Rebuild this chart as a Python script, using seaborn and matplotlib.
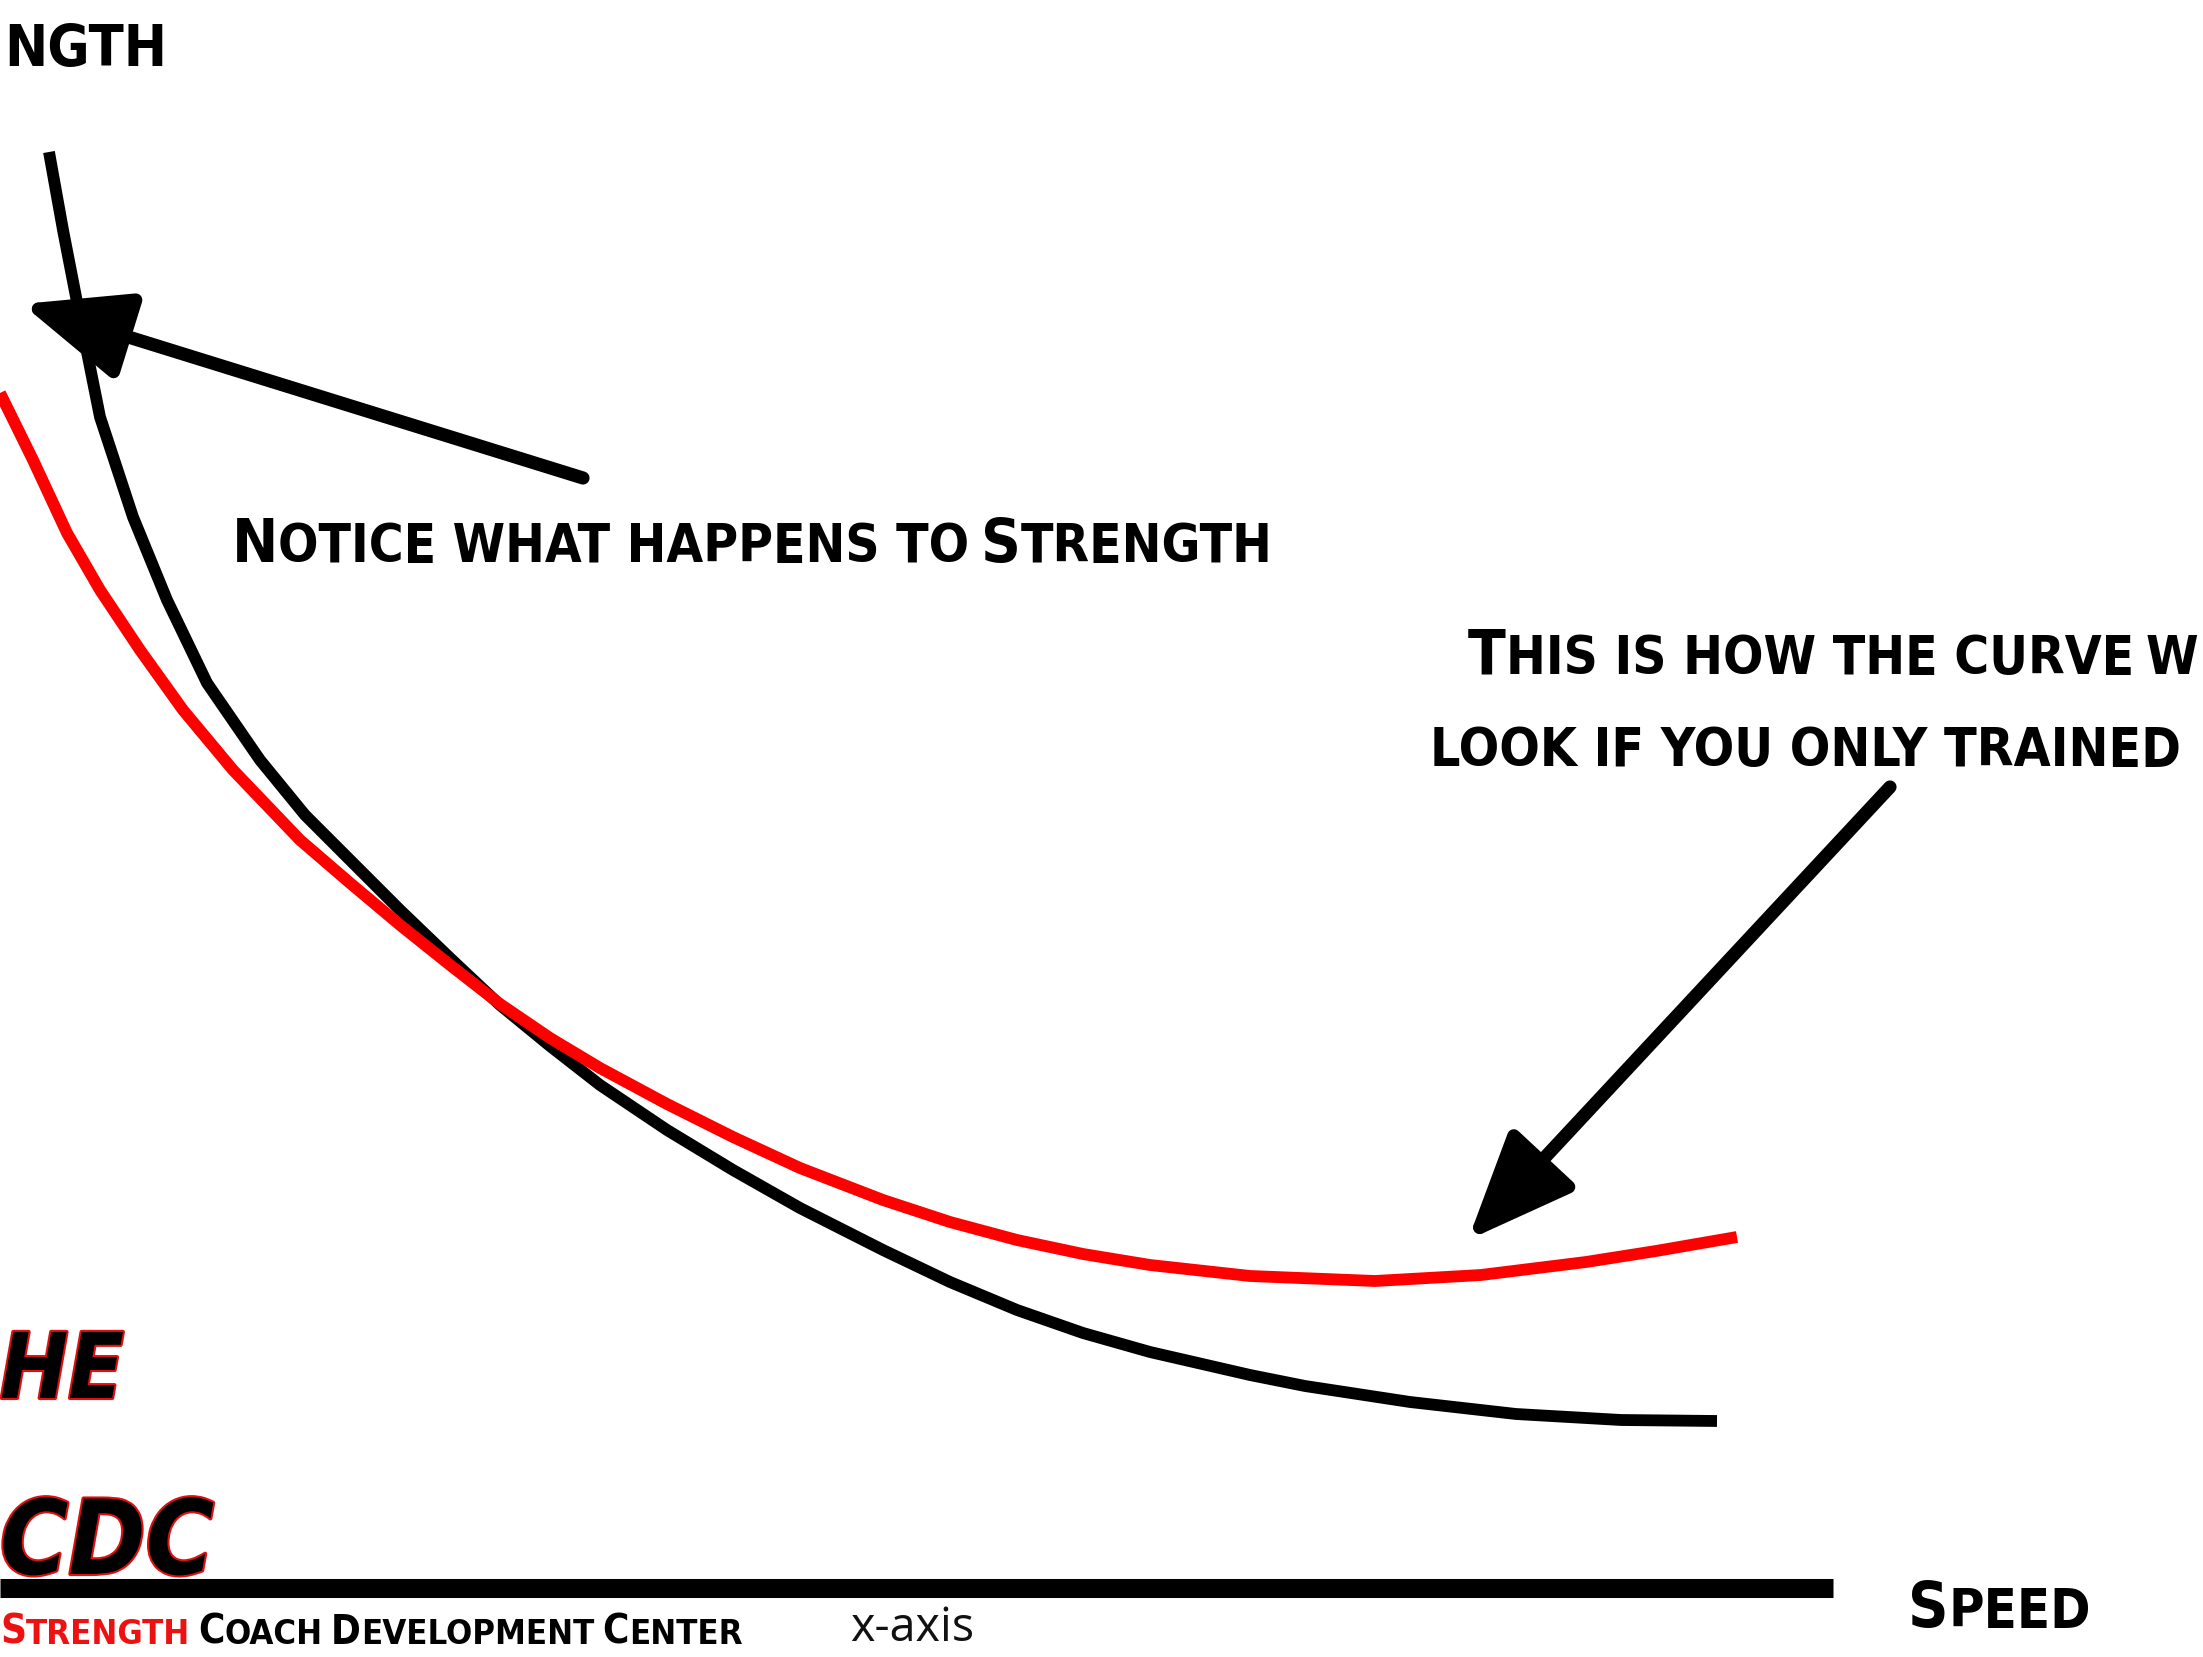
import numpy as np
import pandas as pd
import matplotlib
matplotlib.use("Agg")
import matplotlib.pyplot as plt
from matplotlib import patheffects as pe
import seaborn as sns

# ---------------- data ----------------
AXIS_Y = 1588  # pixel row of the x-axis line; strength = height above it
combined_speed = [49, 63, 77, 90, 100, 133, 167, 207, 260, 305, 350, 400, 450, 500,
                  550, 600, 667, 733, 800, 883, 950, 1017, 1083, 1150, 1250, 1305,
                  1410, 1516, 1621, 1717]
combined_height = [152, 230, 302, 367, 417, 517, 600, 683, 760, 815, 860, 910, 958,
                   1005, 1046, 1085, 1130, 1170, 1208, 1250, 1282, 1310, 1333, 1352,
                   1375, 1386, 1402, 1414, 1420, 1421]
combined_strength = [AXIS_Y - v for v in combined_height]

speed_only_speed = [0, 33, 67, 100, 140, 183, 233, 300, 350, 400, 450, 500, 550, 600,
                    667, 733, 800, 883, 950, 1017, 1083, 1150, 1250, 1375, 1481, 1586,
                    1656, 1737]
speed_only_height = [393, 460, 533, 590, 650, 710, 770, 840, 883, 925, 965, 1004,
                     1038, 1068, 1104, 1137, 1168, 1200, 1222, 1240, 1254, 1265, 1276,
                     1281, 1275, 1262, 1251, 1237]
speed_only_strength = [AXIS_Y - v for v in speed_only_height]

y_label_text = "NGTH"
x_axis_caption = "x-axis"
note_speed_2 = "LOOK IF YOU ONLY TRAINED"
logo_1 = "HE"
logo_2 = "CDC"

# ---------------- figure ----------------
sns.set_theme(style="white")
COND = ["DejaVu Sans"]
plt.rcParams["font.family"] = COND

W, H = 2203, 1657
AXIS_X1 = 1833
fig = plt.figure(figsize=(W / 100, H / 100), dpi=100)
fig.patch.set_facecolor("white")

ax = fig.add_axes([0, (H - AXIS_Y) / H, AXIS_X1 / W, AXIS_Y / H])
ax.set_xlim(0, AXIS_X1)
ax.set_ylim(0, AXIS_Y)
ax.set_facecolor("none")

df = pd.concat([
    pd.DataFrame({"speed": combined_speed, "strength": combined_strength,
                  "curve": "Combined"}),
    pd.DataFrame({"speed": speed_only_speed, "strength": speed_only_strength,
                  "curve": "Speed only"}),
])
palette = {"Combined": "black", "Speed only": "#ff0000"}
for name in ["Combined", "Speed only"]:
    sns.lineplot(data=df[df.curve == name], x="speed", y="strength", color=palette[name],
                 sort=False, estimator=None, lw=8.5, legend=False, ax=ax,
                 solid_capstyle="butt", solid_joinstyle="round")

for s in ["top", "right", "left"]:
    ax.spines[s].set_visible(False)
ax.spines["bottom"].set_linewidth(13.7)
ax.spines["bottom"].set_color("black")
ax.spines["bottom"].set_capstyle("butt")
ax.set_xticks([])
ax.set_yticks([])
ax.set_xlabel("")
ax.set_ylabel("")

# overlay axes in pixel coordinates for annotations
ov = fig.add_axes([0, 0, 1, 1])
ov.set_xlim(0, W)
ov.set_ylim(H, 0)
ov.axis("off")
ov.set_facecolor("none")

renderer = fig.canvas.get_renderer()


def sc_line(x0, base, segs, target_w, big_pt=60, ratio=0.86, family=COND,
            weight="bold", style="normal", stretch="condensed", effects=None):
    """Draw a small-caps style line made of segments, fitted to target_w px."""
    widths = []
    for txt, kind, col in segs:
        if txt is None:
            widths.append(0.20 * big_pt * 100 / 72)
            continue
        size = big_pt if kind == "B" else big_pt * ratio
        t = ov.text(0, 0, txt, fontsize=size, family=family, weight=weight, style=style,
                    fontstretch=stretch)
        widths.append(t.get_window_extent(renderer).width)
        t.remove()
    k = target_w / sum(widths)
    x = x0
    for (txt, kind, col), w in zip(segs, widths):
        if txt is not None:
            size = (big_pt if kind == "B" else big_pt * ratio) * k
            ov.text(x, base, txt, fontsize=size, family=family, weight=weight,
                    style=style, fontstretch=stretch, color=col, ha="left",
                    va="baseline", path_effects=effects)
        x += w * k


K = "black"
R = "#ee1111"
# y-axis label (cropped)
sc_line(4, 66, [(y_label_text, "s", K)], 163)
# note on strength
sc_line(232, 562, [("N", "B", K), ("OTICE WHAT HAPPENS TO", "s", K), (None, "", K),
                   ("S", "B", K), ("TRENGTH", "s", K)], 1040)
# note on speed curve
sc_line(1468, 674, [("T", "B", K), ("HIS IS HOW THE CURVE", "s", K), (None, "", K),
                    ("W", "s", K)], 730)
sc_line(1430, 766, [(note_speed_2, "s", K)], 751)
# x label
sc_line(1908, 1627, [("S", "B", K), ("PEED", "s", K)], 183)
# footer
sc_line(0, 1644, [("S", "B", R), ("TRENGTH", "s", R), (None, "", K),
                  ("C", "B", K), ("OACH", "s", K), (None, "", K),
                  ("D", "B", K), ("EVELOPMENT", "s", K), (None, "", K),
                  ("C", "B", K), ("ENTER", "s", K)], 742)
# x-axis caption
sc_line(850, 1641, [(x_axis_caption, "s", "#111111")], 124,
        family=["Open Sans", "DejaVu Sans"], weight="normal", stretch="normal")
# logo
logo_fx = [pe.withStroke(linewidth=3, foreground="#dd1111")]
sc_line(0, 1398, [(logo_1, "B", "black")], 124, style="italic", weight="heavy",
        effects=logo_fx)
sc_line(0, 1574, [(logo_2, "B", "black")], 214, style="italic", weight="heavy",
        effects=logo_fx)

# arrows
arrow_kw = dict(arrowstyle="-|>,head_length=6.5,head_width=2.7", color="black",
                lw=9.5, shrinkA=0, shrinkB=0, mutation_scale=10)
ov.annotate("", xy=(22, 304), xytext=(583, 478), arrowprops=arrow_kw)
ov.annotate("", xy=(1468, 1240), xytext=(1890, 787), arrowprops=arrow_kw)

fig.savefig("out.png", dpi=100, facecolor="white")
